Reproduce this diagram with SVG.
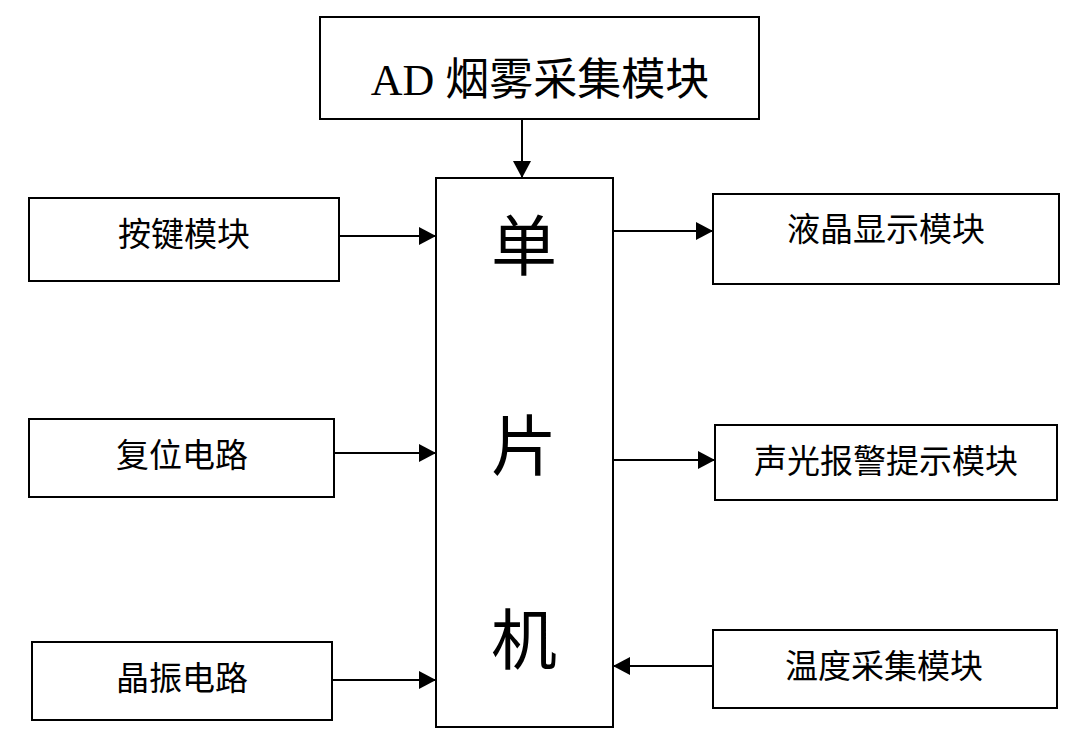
<svg xmlns="http://www.w3.org/2000/svg" width="1080" height="747" viewBox="0 0 1080 747">
<style>
.box{fill:#fff;stroke:#000;stroke-width:2}
.lbl{font-family:"Liberation Serif","Noto Sans CJK SC",serif;fill:#000;text-anchor:middle}
.s{font-size:33px}
.c{stroke:#000;stroke-width:2;fill:none;marker-end:url(#ah)}
</style>
<defs>
<marker id="ah" markerUnits="userSpaceOnUse" markerWidth="20" markerHeight="20" refX="18" refY="10" orient="auto">
<path d="M1,1 L18,10 L1,19 Z" fill="#000"/>
</marker>
</defs>
<rect width="1080" height="747" fill="#fff"/>
<g id="connectors">
<path class="c" d="M522,119 V178"/>
<path class="c" d="M339,236 H436"/>
<path class="c" d="M334,453 H436"/>
<path class="c" d="M332,680 H436"/>
<path class="c" d="M613,231 H713"/>
<path class="c" d="M613,460 H715"/>
<path class="c" d="M713,666 H613"/>
</g>
<g id="ad">
<rect class="box" x="320" y="17" width="439" height="102"/>
<text class="lbl" x="540" y="95" font-size="44">AD 烟雾采集模块</text>
</g>
<g id="mcu">
<rect class="box" x="436" y="178" width="177" height="549"/>
<text class="lbl" x="524" y="270" font-size="66">单</text>
<text class="lbl" x="524" y="470" font-size="66">片</text>
<text class="lbl" x="524" y="664" font-size="66">机</text>
</g>
<g id="keys">
<rect class="box" x="29" y="198" width="310" height="83"/>
<text class="lbl s" x="184" y="246">按键模块</text>
</g>
<g id="reset">
<rect class="box" x="29" y="419" width="305" height="78"/>
<text class="lbl s" x="182" y="467">复位电路</text>
</g>
<g id="osc">
<rect class="box" x="32" y="642" width="300" height="78"/>
<text class="lbl s" x="182" y="690">晶振电路</text>
</g>
<g id="lcd">
<rect class="box" x="713" y="194" width="346" height="90"/>
<text class="lbl s" x="886" y="241">液晶显示模块</text>
</g>
<g id="alarm">
<rect class="box" x="715" y="425" width="342" height="75"/>
<text class="lbl s" x="886" y="473">声光报警提示模块</text>
</g>
<g id="temp">
<rect class="box" x="713" y="630" width="344" height="78"/>
<text class="lbl s" x="884" y="678">温度采集模块</text>
</g>
</svg>
